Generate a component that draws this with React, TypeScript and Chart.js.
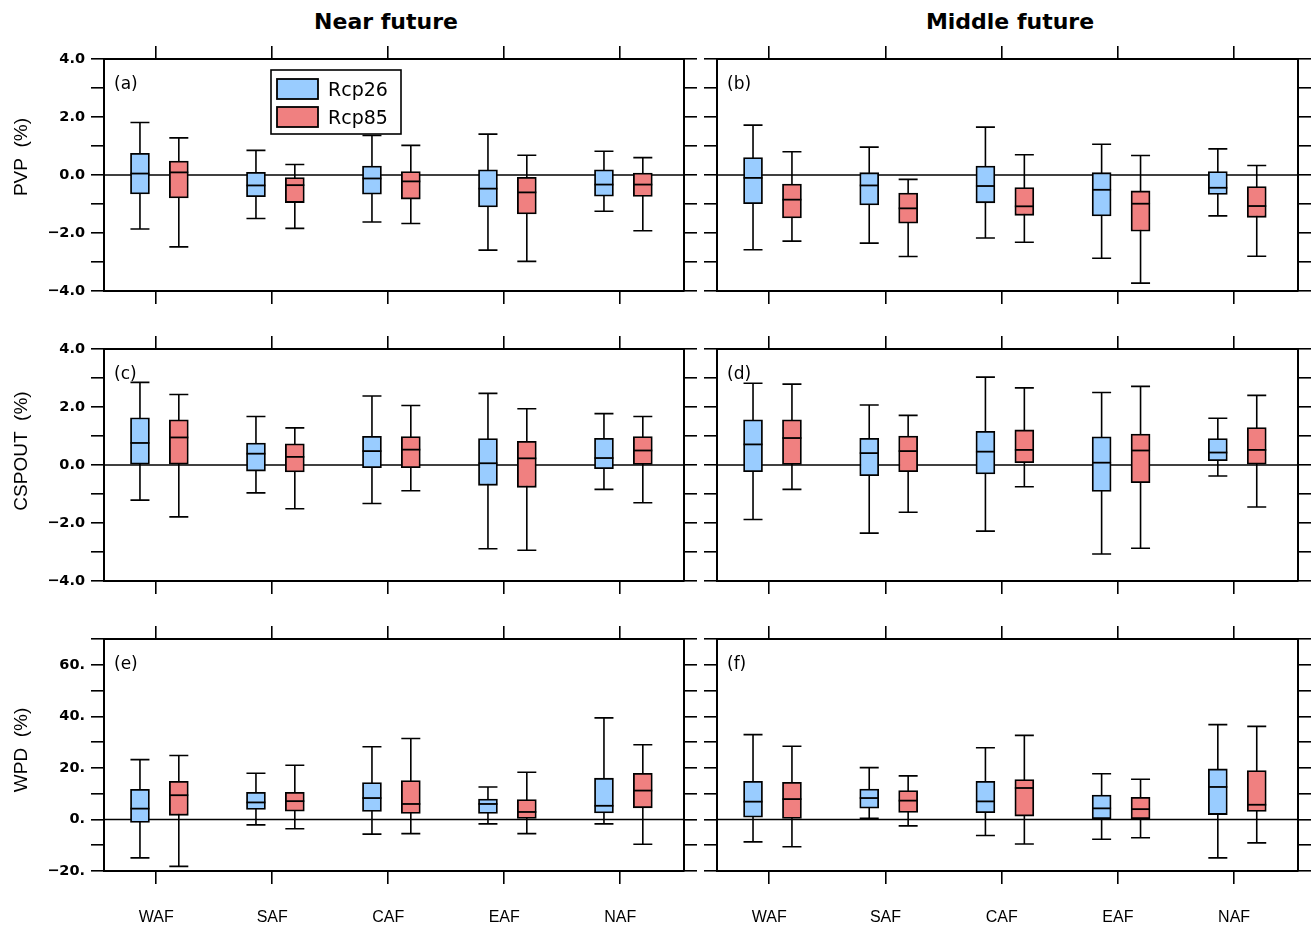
import React, { useEffect, useRef } from "react";
import { Chart, registerables } from "chart.js";

Chart.register(...registerables);

// ---------- data ----------
const regions = ["WAF", "SAF", "CAF", "EAF", "NAF"];
const seriesNames = ["Rcp26", "Rcp85"];
const seriesColors = ["#99CCFF", "#F08080"];
const columnTitles = ["Near future", "Middle future"];
const rowTitles = ["PVP  (%)", "CSPOUT  (%)", "WPD  (%)"];
const panelLetters = ["(a)", "(b)", "(c)", "(d)", "(e)", "(f)"];

const pctTickValues = [-4, -2, 0, 2, 4];
const pctTickLabels = ["\u22124.0", "\u22122.0", "0.0", "2.0", "4.0"];
const wpdTickValues = [-20, 0, 20, 40, 60];
const wpdTickLabels = ["\u221220.", "0.", "20.", "40.", "60."];

// each entry: [min, q1, median, q3, max] per region
const pvpNearRcp26 = [[-1.86, -0.65, 0.05, 0.75, 1.81], [-1.5, -0.75, -0.36, 0.09, 0.85], [-1.62, -0.66, -0.12, 0.31, 1.36], [-2.59, -1.1, -0.47, 0.18, 1.41], [-1.25, -0.73, -0.33, 0.18, 0.82]];
const pvpNearRcp85 = [[-2.48, -0.79, 0.09, 0.48, 1.28], [-1.84, -0.95, -0.35, -0.09, 0.36], [-1.67, -0.83, -0.22, 0.12, 1.02], [-2.98, -1.34, -0.6, -0.08, 0.68], [-1.92, -0.74, -0.33, 0.07, 0.6]];
const pvpMidRcp26 = [[-2.58, -0.99, -0.1, 0.6, 1.72], [-2.35, -1.03, -0.36, 0.08, 0.96], [-2.17, -0.96, -0.38, 0.31, 1.65], [-2.87, -1.41, -0.51, 0.08, 1.06], [-1.41, -0.67, -0.44, 0.12, 0.9]];
const pvpMidRcp85 = [[-2.28, -1.48, -0.85, -0.31, 0.8], [-2.81, -1.66, -1.15, -0.62, -0.15], [-2.32, -1.39, -1.08, -0.43, 0.7], [-3.73, -1.94, -0.99, -0.55, 0.67], [-2.8, -1.46, -1.07, -0.4, 0.33]];
const cspNearRcp26 = [[-1.21, 0.03, 0.76, 1.63, 2.85], [-0.96, -0.21, 0.39, 0.76, 1.67], [-1.33, -0.09, 0.48, 0.99, 2.38], [-2.89, -0.7, 0.06, 0.91, 2.47], [-0.84, -0.13, 0.24, 0.92, 1.77]];
const cspNearRcp85 = [[-1.79, 0.0, 0.95, 1.56, 2.43], [-1.51, -0.24, 0.28, 0.73, 1.28], [-0.89, -0.09, 0.53, 0.98, 2.05], [-2.94, -0.77, 0.23, 0.82, 1.94], [-1.3, 0.02, 0.5, 0.98, 1.67]];
const cspMidRcp26 = [[-1.88, -0.23, 0.71, 1.56, 2.82], [-2.35, -0.37, 0.41, 0.92, 2.07], [-2.28, -0.31, 0.46, 1.16, 3.03], [-3.07, -0.91, 0.08, 0.97, 2.5], [-0.38, 0.15, 0.43, 0.91, 1.61]];
const cspMidRcp85 = [[-0.84, 0.02, 0.93, 1.56, 2.79], [-1.63, -0.23, 0.48, 1.0, 1.71], [-0.75, 0.08, 0.52, 1.21, 2.66], [-2.87, -0.61, 0.5, 1.07, 2.71], [-1.45, 0.03, 0.52, 1.29, 2.4]];
const wpdNearRcp26 = [[-14.9, -1.2, 4.2, 11.7, 23.2], [-2.1, 3.9, 6.6, 10.5, 17.9], [-5.7, 3.1, 8.3, 14.3, 28.2], [-1.7, 2.3, 6.0, 7.9, 12.6], [-1.7, 2.5, 5.3, 16.0, 39.4]];
const wpdNearRcp85 = [[-18.2, 1.6, 9.4, 14.8, 24.8], [-3.6, 3.2, 7.1, 10.5, 21.0], [-5.5, 2.3, 6.0, 15.1, 31.4], [-5.5, 0.4, 2.9, 7.7, 18.3], [-9.6, 4.5, 11.2, 17.9, 29.0]];
const wpdMidRcp26 = [[-8.7, 0.9, 6.9, 14.8, 32.9], [0.4, 4.4, 8.3, 11.8, 20.1], [-6.2, 2.6, 7.0, 14.8, 27.8], [-7.7, 0.3, 4.3, 9.5, 17.7], [-14.9, 1.9, 12.6, 19.6, 36.8]];
const wpdMidRcp85 = [[-10.6, 0.4, 7.9, 14.4, 28.4], [-2.5, 2.7, 7.3, 11.2, 16.9], [-9.5, 1.3, 12.2, 15.5, 32.6], [-7.1, 0.3, 4.0, 8.6, 15.6], [-9.1, 3.1, 5.7, 19.0, 36.1]];

// ---------- layout ----------
const COLS = [
  { canvasLeft: 0, canvasWidth: 700, yW: 104, y2W: 16 },
  { canvasLeft: 700, canvasWidth: 611, yW: 17, y2W: 13 },
];
const FRAME_TOPS = [59, 349, 639];
const PLOT_H = 232;
const TOP_AX = 20;
const BOTTOM_AX = [20, 20, 55];
const ROW_SCALE = [
  { min: -4, max: 4, step: 1, tv: pctTickValues, tl: pctTickLabels, shift: 18 },
  { min: -4, max: 4, step: 1, tv: pctTickValues, tl: pctTickLabels, shift: 14 },
  { min: -20, max: 70, step: 10, tv: wpdTickValues, tl: wpdTickLabels, shift: 5 },
];
const POS_OFFSETS = [-0.14, 0.195];

const panelStats = [
  [pvpNearRcp26, pvpNearRcp85], [pvpMidRcp26, pvpMidRcp85],
  [cspNearRcp26, cspNearRcp85], [cspMidRcp26, cspMidRcp85],
  [wpdNearRcp26, wpdNearRcp85], [wpdMidRcp26, wpdMidRcp85],
];

const FRAME_LINE = 2;
const BOX_LINE = 1.8;
const WHISKER_LINE = 1.6;

function Panel({ idx }: { idx: number }) {
  const ref = useRef<HTMLCanvasElement | null>(null);
  const row = Math.floor(idx / 2);
  const col = idx % 2;
  const C = COLS[col];
  const R = ROW_SCALE[row];
  const top = FRAME_TOPS[row] - TOP_AX;
  const height = TOP_AX + PLOT_H + BOTTOM_AX[row];
  const stats = panelStats[idx];

  useEffect(() => {
    if (!ref.current) return;
    const gridOpts = {
      display: true,
      drawOnChartArea: false,
      drawTicks: true,
      tickLength: 13,
      color: "#000",
      lineWidth: WHISKER_LINE,
      offset: false,
    };
    const border = { display: true, color: "#000", width: FRAME_LINE };
    const xTicks = (scale: any) => {
      scale.ticks = regions.map((_, i) => ({ value: i + 1 }));
    };
    const yLabel = (v: any) => {
      const k = R.tv.findIndex((t) => Math.abs(t - Number(v)) < 1e-6);
      return k >= 0 ? R.tl[k] : "";
    };

    const plugin = {
      id: "boxplotDraw" + idx,
      beforeDatasetsDraw(chart: any) {
        const { ctx, chartArea } = chart;
        const y = chart.scales.y;
        ctx.save();
        ctx.strokeStyle = "#000";
        ctx.lineWidth = WHISKER_LINE;
        const y0 = y.getPixelForValue(0);
        ctx.beginPath();
        ctx.moveTo(chartArea.left, y0);
        ctx.lineTo(chartArea.right, y0);
        ctx.stroke();
        stats.forEach((series, si) => {
          const meta = chart.getDatasetMeta(si);
          series.forEach((s, i) => {
            const el = meta.data[i];
            if (!el) return;
            const hw = el.width / 2;
            const pmin = y.getPixelForValue(s[0]);
            const pmax = y.getPixelForValue(s[4]);
            ctx.beginPath();
            ctx.moveTo(el.x, pmin);
            ctx.lineTo(el.x, pmax);
            ctx.moveTo(el.x - hw, pmin);
            ctx.lineTo(el.x + hw, pmin);
            ctx.moveTo(el.x - hw, pmax);
            ctx.lineTo(el.x + hw, pmax);
            ctx.stroke();
          });
        });
        ctx.restore();
      },
      afterDatasetsDraw(chart: any) {
        const { ctx } = chart;
        const y = chart.scales.y;
        ctx.save();
        ctx.strokeStyle = "#000";
        ctx.lineWidth = BOX_LINE;
        stats.forEach((series, si) => {
          const meta = chart.getDatasetMeta(si);
          series.forEach((s, i) => {
            const el = meta.data[i];
            if (!el) return;
            const hw = el.width / 2;
            const pm = y.getPixelForValue(s[2]);
            ctx.beginPath();
            ctx.moveTo(el.x - hw, pm);
            ctx.lineTo(el.x + hw, pm);
            ctx.stroke();
          });
        });
        ctx.restore();
      },
      afterDraw(chart: any) {
        const { ctx, chartArea } = chart;
        ctx.save();
        ctx.fillStyle = "#000";
        ctx.font = '17px "DejaVu Sans"';
        ctx.textAlign = "left";
        ctx.textBaseline = "alphabetic";
        ctx.fillText(panelLetters[idx], chartArea.left + 10, chartArea.top + 30);

        if (col === 0) {
          ctx.save();
          ctx.translate(22, (chartArea.top + chartArea.bottom) / 2 - R.shift);
          ctx.rotate(-Math.PI / 2);
          ctx.textAlign = "center";
          ctx.textBaseline = "middle";
          ctx.font = '19px "Liberation Sans"';
          ctx.fillText(rowTitles[row], 0, 0);
          ctx.restore();
        }

        if (idx === 0) {
          const lx = chartArea.left + 167;
          const ly = chartArea.top + 11;
          ctx.fillStyle = "#fff";
          ctx.fillRect(lx, ly, 130, 64);
          ctx.strokeStyle = "#000";
          ctx.lineWidth = WHISKER_LINE;
          ctx.strokeRect(lx, ly, 130, 64);
          chart.data.datasets.forEach((ds: any, k: number) => {
            const sy = ly + 9 + k * 28;
            ctx.fillStyle = ds.backgroundColor;
            ctx.fillRect(lx + 6, sy, 41, 20);
            ctx.lineWidth = BOX_LINE;
            ctx.strokeRect(lx + 6, sy, 41, 20);
            ctx.fillStyle = "#000";
            ctx.font = '19px "DejaVu Sans"';
            ctx.textAlign = "left";
            ctx.textBaseline = "alphabetic";
            ctx.fillText(ds.label, lx + 57, ly + 26 + k * 28);
          });
        }
        ctx.restore();
      },
    };

    const chart = new Chart(ref.current, {
      type: "bar",
      data: {
        datasets: stats.map((series, si) => ({
          label: seriesNames[si],
          data: series.map((s, i) => ({ x: i + 1 + POS_OFFSETS[si], y: [s[1], s[3]] })),
          backgroundColor: seriesColors[si],
          borderColor: "#000",
          borderWidth: BOX_LINE,
          borderSkipped: false,
          barThickness: 19,
          grouped: false,
        })) as any,
      },
      options: {
        animation: false,
        responsive: false,
        devicePixelRatio: 1,
        layout: { padding: 0 },
        plugins: { legend: { display: false }, tooltip: { enabled: false }, title: { display: false } },
        scales: {
          x: {
            type: "linear",
            position: "bottom",
            min: 0.55,
            max: 5.55,
            offset: false,
            afterBuildTicks: xTicks,
            afterFit: (s: any) => { s.height = BOTTOM_AX[row]; },
            grid: gridOpts,
            border,
            ticks: {
              autoSkip: false,
              maxRotation: 0,
              color: "#000",
              padding: 24,
              font: { family: "Liberation Sans", size: 16 },
              callback: (v: any) => (row === 2 ? regions[Math.round(Number(v)) - 1] : ""),
            },
          },
          x2: {
            type: "linear",
            position: "top",
            min: 0.55,
            max: 5.55,
            offset: false,
            afterBuildTicks: xTicks,
            afterFit: (s: any) => { s.height = TOP_AX; },
            grid: gridOpts,
            border,
            ticks: { autoSkip: false, maxRotation: 0, callback: () => "" },
          },
          y: {
            type: "linear",
            position: "left",
            min: R.min,
            max: R.max,
            afterFit: (s: any) => { s.width = C.yW; },
            grid: gridOpts,
            border,
            ticks: {
              stepSize: R.step,
              autoSkip: false,
              color: "#000",
              padding: 6,
              font: { family: "DejaVu Sans", size: 14.5, weight: "bold" },
              callback: (v: any) => (col === 0 ? yLabel(v) : ""),
            },
          },
          y2: {
            type: "linear",
            position: "right",
            min: R.min,
            max: R.max,
            afterFit: (s: any) => { s.width = C.y2W; },
            grid: gridOpts,
            border,
            ticks: { stepSize: R.step, autoSkip: false, callback: () => "" },
          },
        } as any,
      },
      plugins: [plugin],
    });
    return () => chart.destroy();
  }, [idx]);

  return (
    <canvas
      ref={ref}
      width={C.canvasWidth}
      height={height}
      style={{ position: "absolute", left: C.canvasLeft, top, width: C.canvasWidth, height }}
    />
  );
}

export default function App() {
  const titleStyle = (cx: number): React.CSSProperties => ({
    position: "absolute",
    left: cx - 200,
    width: 400,
    top: 10.7,
    textAlign: "center",
    fontFamily: '"DejaVu Sans"',
    fontWeight: "bold",
    fontSize: 22,
    lineHeight: "22px",
    color: "#000",
    whiteSpace: "pre",
  });
  return (
    <div style={{ position: "absolute", left: 0, top: 0, width: 1311, height: 926, background: "#fff", overflow: "hidden" }}>
      <div style={titleStyle(386)}>{columnTitles[0]}</div>
      <div style={titleStyle(1010)}>{columnTitles[1]}</div>
      {[0, 1, 2, 3, 4, 5].map((i) => (
        <Panel key={i} idx={i} />
      ))}
    </div>
  );
}
